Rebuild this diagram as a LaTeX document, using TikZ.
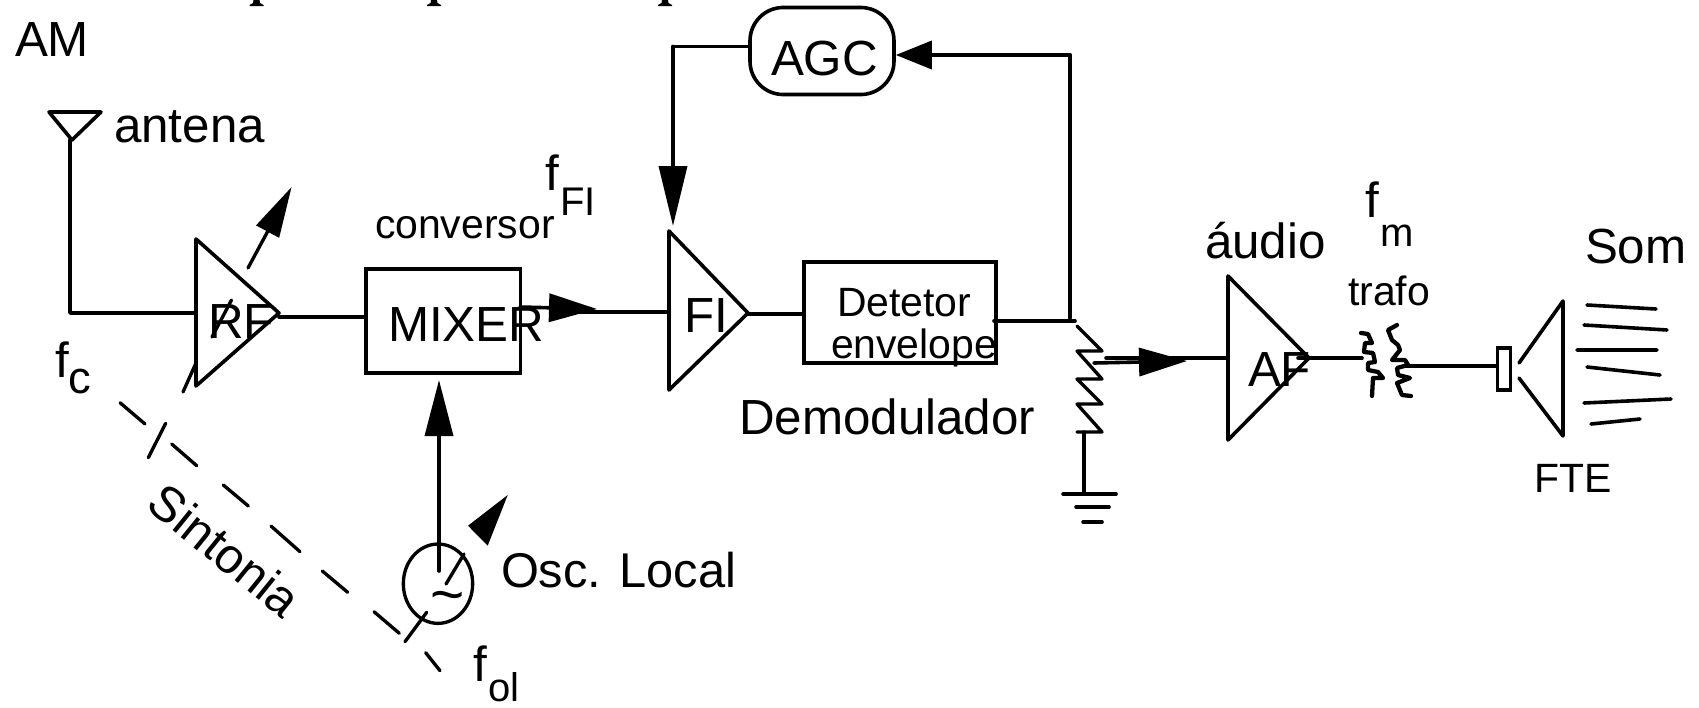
\documentclass[tikz,border=0pt]{standalone}
\usepackage{fontspec}
\setmainfont{Liberation Sans}
\usetikzlibrary{arrows.meta,shapes.geometric}
\newcommand{\fz}[1]{\fontsize{#1}{#1}\selectfont}
\tikzset{
 wire/.style={line width=2.7pt,line cap=round,line join=round},
 thin wire/.style={line width=2.5pt,line cap=round,line join=round},
 headtip/.style={-{Triangle[length=#1,width=21pt]}},
 txt/.style={anchor=base west,inner sep=0pt,outer sep=0pt},
 big/.style={txt,font=\fz{37}},
 mid/.style={txt,font=\fz{30.7}},
 sub/.style={txt,font=\fz{30}},
 boxn/.style={draw,line width=2.7pt,rectangle,inner sep=0pt},
 remnant/.style={fill=black},
}
\begin{document}
\begin{tikzpicture}[x=0.75pt,y=-0.75pt]
\useasboundingbox (0,0) rectangle (1699,707);
% cropped text remnants
\foreach \xc in {256.5,434,665}{
 \fill[remnant] (\xc-3,0) -- (\xc+3,0) -- (\xc+3.5,3) -- (\xc+7,5) -- (\xc+7,6) -- (\xc-7,6) -- (\xc-7,5) -- (\xc-3.5,3) -- cycle;
}
% blocks
\node[boxn,minimum width=116pt,minimum height=78pt] (mixer) at (443.25,321) {};
\node[boxn,minimum width=144pt,minimum height=76pt] (det) at (900,312.5) {};
\node[boxn,rounded corners=25pt,minimum width=108pt,minimum height=65.3pt] (agc) at (822,51) {};
\node[draw,line width=2.5pt,ellipse,inner sep=0pt,minimum width=52pt,minimum height=59.5pt] (osc) at (438,583.7) {};
% triangles
\coordinate (rft) at (196,239); \coordinate (rfb) at (196,386); \coordinate (rfa) at (279,313);
\coordinate (fit) at (669,231); \coordinate (fib) at (669,390); \coordinate (fia) at (748,313);
\coordinate (aft) at (1228,276); \coordinate (afb) at (1228,440); \coordinate (afa) at (1309,358);
\draw[wire] (rft) -- (rfa) -- (rfb) -- cycle;
\draw[wire] (fit) -- (fia) -- (fib) -- cycle;
\draw[wire] (aft) -- (afa) -- (afb) -- cycle;
% antenna
\coordinate (ana) at (49,112); \coordinate (anb) at (101,112); \coordinate (anc) at (72,140);
\coordinate (anj) at (70,313);
\draw[wire] (ana) -- (anb) -- (anc) -- cycle;
\draw[wire] (anc -| anj) -- (anj) -- (rft |- anj);
% labels
\node[big] (lam) at (15,56) {AM};
\node[big] (lant) at (114,142) {antena};
\node[big] (lrf) at (208,338) {RF};
\node[big] (lmix) at (388,341) {MIXER};
\node[big] (lfi) at (684,332) {FI};
\node[big] (lagc) at (771,75) {AGC};
\node[big] (ldem) at (739,434) {Demodulador};
\node[mid] (ldet) at (837,316) {Detetor};
\node[mid] (lenv) at (831,358) {envelope};
\node[mid] (lcon) at (375,238) {conversor};
\node[big] (lff) at (545,190) {f};
\node[sub] (lfis) at (560,215) {FI};
\node[big] (lfc) at (55,377) {f};
\node[big,font=\fz{34}] (lfcs) at (68,393) {c};
\node[big] (lfo) at (473,681) {f};
\node[sub] (lfos) at (488,701) {ol};
\node[big,font=\fz{36.6}] (losc) at (501,587) {Osc. Local};
\node[big] (laud) at (1205,258) {áudio};
\node[big] (lfm) at (1365,217) {f};
\node[sub] (lfms) at (1380,246) {m};
\node[mid] (ltr) at (1348,305) {trafo};
\node[big] (laf) at (1248,386) {AF};
\node[big] (lsom) at (1585,263) {Som};
\node[mid] (lfte) at (1534,492) {FTE};
\node[big,anchor=base,rotate=-39] (lsin) at (214,564) {Sintonia};
\node[big,font=\fz{44}] (ltil) at (447,614) {\makebox[0pt]{\~{}}};
% RF links
\coordinate (rfo) at (279,317);
\draw[wire] (rfo) -- (rfo -| mixer.west);
\coordinate (mo) at (520,307); \coordinate (mt) at (597,309); \coordinate (fiin) at (669,312); \coordinate (fm) at (565,312);
\draw[wire,headtip=36pt] (mo) -- (mt);
\draw[wire] (fm) -- (fiin);
\coordinate (fio) at (748,314);
\draw[wire] (fio) -- (fio -| det.west);
% det out
\coordinate (do) at (994,321); \coordinate (dj) at (1075,321); \coordinate (vt) at (1070,318); \coordinate (vb) at (1070,55);
\draw[wire] (do) -- (dj);
\draw[wire] (vt) -- (vb);
\draw[wire,headtip=27pt] (vb) -- (agc.east |- vb);
% agc to FI
\coordinate (al) at (673,46.5); \coordinate (afi) at (673,226);
\draw[wire] (agc.west |- al) -- (al);
\draw[wire,headtip=45pt] (al) -- (afi);
% osc to mixer
\coordinate (oa) at (439,571); \coordinate (ob) at (439,380);
\draw[wire,headtip=42pt] (oa) -- (ob);
% resistor
\coordinate (r0) at (1077,326); \coordinate (rg) at (1084,432); \coordinate (g0) at (1084,494);
\draw[thin wire] (r0) -- (1102,351) -- (1077,351) -- (1102,379) -- (1077,379) -- (1102,404) -- (1077,404) -- (1102,432) -- (1077,432);
\draw[thin wire] (rg) -- (g0);
\draw[wire] (1063,494) -- (1116,494) (1076,507) -- (1109,507) (1083,522) -- (1102,522);
% wiper
\coordinate (w0) at (1094,363); \coordinate (w1) at (1187,361); \coordinate (w2) at (1106,358);
\draw[wire,headtip=36pt] (w0) -- (w1);
\draw[wire] (w2) -- (aft |- w2);
% AF out
\coordinate (ao) at (1298,358); \coordinate (ti) at (1362,358);
\draw[wire] (ao) -- (ti);
% transformer
\draw[wire,line width=3.2pt] (1361,333) -- (1368,334) -- (1372,343) -- (1365,343) -- (1364,352) -- (1373,353) -- (1375,362) -- (1368,363) -- (1368,370) -- (1378,372) -- (1383,378) -- (1373,378) -- (1372,396);
\draw[wire,line width=3.2pt] (1397,325) -- (1388,330) -- (1392,340) -- (1398,345) -- (1400,350) -- (1392,360) -- (1405,360) -- (1408,365) -- (1397,368) -- (1398,375) -- (1410,378) -- (1397,383) -- (1402,395) -- (1411,396);
% speaker
\node[draw,line width=2.7pt,rectangle,inner sep=0pt,minimum width=10pt,minimum height=31.5pt] (spk) at (1504,369) {};
\coordinate (to) at (1406,366);
\draw[wire] (to) -- (to -| spk.west);
\coordinate (c1) at (1519,363); \coordinate (c2) at (1563,301); \coordinate (c3) at (1563,436); \coordinate (c4) at (1519,378);
\draw[wire] (c1) -- (c2) -- (c3) -- (c4);
% sound lines
\draw[wire] (1587,305) -- (1656,309) (1584,325) -- (1667,330) (1577,350) -- (1657,350) (1587,367) -- (1660,375) (1584,403) -- (1671,399) (1591,424) -- (1640,419);
% tuning
\draw[thin wire] (183,392) -- (196,363) (212,337) -- (231.5,300);
\coordinate (tu0) at (248,268); \coordinate (tu1) at (291.6,187);
\draw[thin wire,-{Triangle[length=38pt,width=19pt]}] (tu0) -- (tu1);
\draw[thin wire] (165.7,423.3) -- (148.3,457.7);
\draw[thin wire] (446,584) -- (464,554);
\draw[thin wire] (405,641.7) -- (426.7,612.3);
\fill (507.7,495) -- (468,525.7) -- (487.7,545.7) -- cycle;
% sintonia dashes
\draw[thin wire] (120,402.7) -- (145,424) (171.7,444) -- (196.7,465.7) (223.3,485) -- (248.3,506) (271,526) -- (300,551.7) (322.3,571) -- (347.7,592.3) (374,611.7) -- (399.3,633.3) (425.7,652.7) -- (440,670.7);
\end{tikzpicture}
\end{document}
